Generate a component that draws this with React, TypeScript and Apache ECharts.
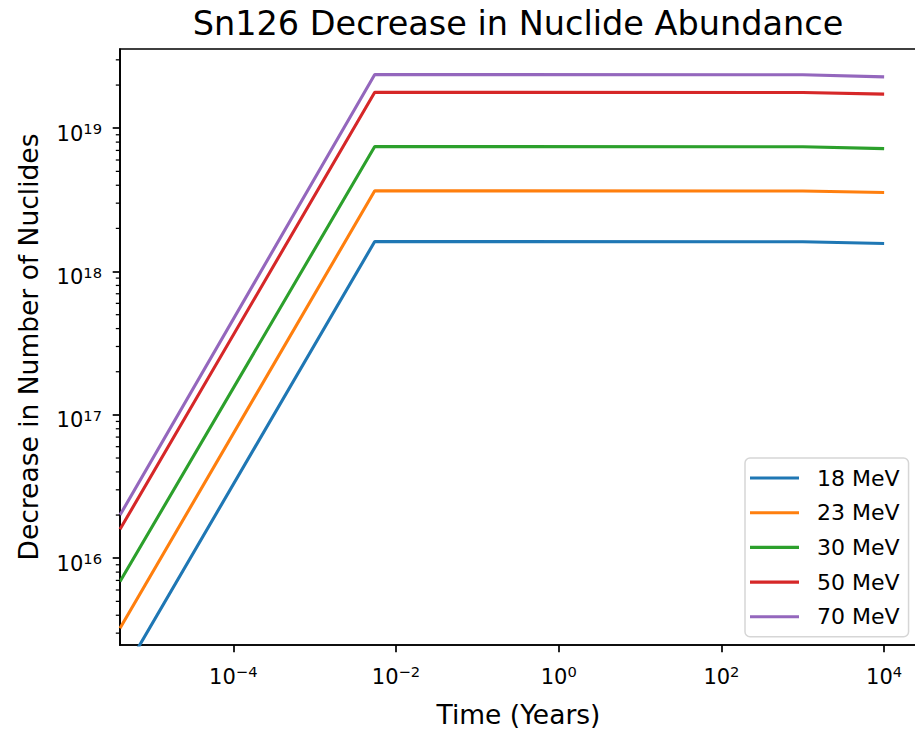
import React, { useEffect, useRef } from "react";
import * as echarts from "echarts";

// ---- data ----
const seriesNames = ["18 MeV", "23 MeV", "30 MeV", "50 MeV", "70 MeV"];
const seriesColors = ["#1f77b4", "#ff7f0e", "#2ca02c", "#d62728", "#9467bd"];
const timesYears = [4.05e-6, 5.48e-3, 1000, 10000];
const mev18 = [1.44e15, 1.62e18, 1.615e18, 1.57e18];
const mev23 = [3.25e15, 3.66e18, 3.65e18, 3.56e18];
const mev30 = [6.87e15, 7.45e18, 7.43e18, 7.2e18];
const mev50 = [1.59e16, 1.78e19, 1.775e19, 1.73e19];
const mev70 = [2.0e16, 2.37e19, 2.36e19, 2.28e19];
const seriesValues = [mev18, mev23, mev30, mev50, mev70];

const X_MIN = 4.05e-6;
const X_MAX = 2.535e4;
const Y_MIN = 2.48e15;
const Y_MAX = 3.57e19;
const yMinorTickValues = [
  3e15, 4e15, 5e15, 6e15, 7e15, 8e15, 9e15,
  2e16, 3e16, 4e16, 5e16, 6e16, 7e16, 8e16, 9e16,
  2e17, 3e17, 4e17, 5e17, 6e17, 7e17, 8e17, 9e17,
  2e18, 3e18, 4e18, 5e18, 6e18, 7e18, 8e18, 9e18,
  2e19, 3e19,
];

const FONT = "DejaVu Sans";

function powLabel(value: number): string {
  const exp = Math.round(Math.log10(value));
  const e = exp < 0 ? "\u2212" + Math.abs(exp) : String(exp);
  return "{b|10}{s|" + e + "}";
}

const richLabel = {
  b: { fontSize: 21, fontFamily: FONT, color: "#000", verticalAlign: "bottom" },
  s: {
    fontSize: 14.7,
    fontFamily: FONT,
    color: "#000",
    verticalAlign: "bottom",
    padding: [0, 0, 8, 0],
  },
};

export default function App() {
  const ref = useRef<HTMLDivElement>(null);

  useEffect(() => {
    if (!ref.current) return;
    const chart = echarts.init(ref.current, null, { renderer: "svg" });

    const lineSeries = seriesNames.map((name, i) => ({
      name,
      type: "line",
      data: timesYears.map((t, j) => [t, seriesValues[i][j]]),
      symbol: "none",
      showSymbol: false,
      clip: true,
      color: seriesColors[i],
      lineStyle: { width: 3.1, color: seriesColors[i] },
      emphasis: { disabled: true },
      z: 2,
    }));

    const minorTicks = {
      name: "minor-ticks",
      type: "custom",
      data: yMinorTickValues.map((v) => [X_MIN, v]),
      clip: false,
      silent: true,
      z: 5,
      renderItem: (_params: any, api: any) => {
        const p = api.coord([api.value(0), api.value(1)]);
        return {
          type: "line",
          shape: { x1: p[0] - 4.2, y1: p[1], x2: p[0], y2: p[1] },
          style: { stroke: "#000", lineWidth: 1.26 },
        };
      },
    };

    chart.setOption({
      animation: false,
      backgroundColor: "#fff",
      title: {
        text: "Sn126 Decrease in Nuclide Abundance",
        left: 518,
        textAlign: "center",
        top: 6,
        padding: 0,
        textStyle: {
          fontFamily: FONT,
          fontSize: 33.5,
          fontWeight: "normal",
          color: "#000",
        },
      },
      legend: {
        data: seriesNames,
        icon: "rect",
        orient: "vertical",
        left: 745,
        top: 458,
        itemWidth: 49,
        itemHeight: 3.1,
        itemGap: 12.7,
        padding: [9, 9, 9, 5],
        borderColor: "#d6d6d6",
        borderWidth: 1.5,
        borderRadius: 5,
        backgroundColor: "rgba(255,255,255,0.8)",
        selectedMode: false,
        textStyle: {
          fontFamily: FONT,
          fontSize: 22,
          color: "#000",
          padding: [0, 0, 0, 13],
        },
      },
      grid: {
        left: 120,
        top: 49,
        right: -2,
        bottom: 89,
        show: true,
        borderColor: "#000",
        borderWidth: 1.7,
        backgroundColor: "transparent",
        containLabel: false,
        outerBoundsMode: "none",
      },
      xAxis: {
        type: "log",
        logBase: 100,
        min: X_MIN,
        max: X_MAX,
        name: "Time (Years)",
        nameLocation: "middle",
        nameGap: 56,
        nameTextStyle: { fontFamily: FONT, fontSize: 26.5, color: "#000" },
        axisLine: { show: true, lineStyle: { color: "#000", width: 1.7 } },
        axisTick: { show: true, length: 7.3, lineStyle: { color: "#000", width: 1.7 } },
        splitLine: { show: false },
        minorTick: { show: false },
        axisLabel: {
          show: true,
          margin: 19,
          showMinLabel: false,
          showMaxLabel: false,
          formatter: (v: number) => powLabel(v),
          rich: richLabel,
        },
      },
      yAxis: {
        type: "log",
        logBase: 10,
        min: Y_MIN,
        max: Y_MAX,
        name: "Decrease in Number of Nuclides",
        nameLocation: "middle",
        nameGap: 78,
        nameTextStyle: { fontFamily: FONT, fontSize: 26.5, color: "#000" },
        axisLine: { show: true, lineStyle: { color: "#000", width: 1.7 } },
        axisTick: { show: true, length: 7.3, lineStyle: { color: "#000", width: 1.7 } },
        splitLine: { show: false },
        minorTick: { show: false },
        axisLabel: {
          show: true,
          margin: 18,
          padding: [9, 0, 0, 0],
          showMinLabel: false,
          showMaxLabel: false,
          formatter: (v: number) => powLabel(v),
          rich: richLabel,
        },
      },
      series: [...lineSeries, minorTicks],
    });

    return () => {
      chart.dispose();
    };
  }, []);

  return (
    <div
      ref={ref}
      style={{ position: "absolute", left: 0, top: 0, width: 915, height: 734 }}
    />
  );
}
